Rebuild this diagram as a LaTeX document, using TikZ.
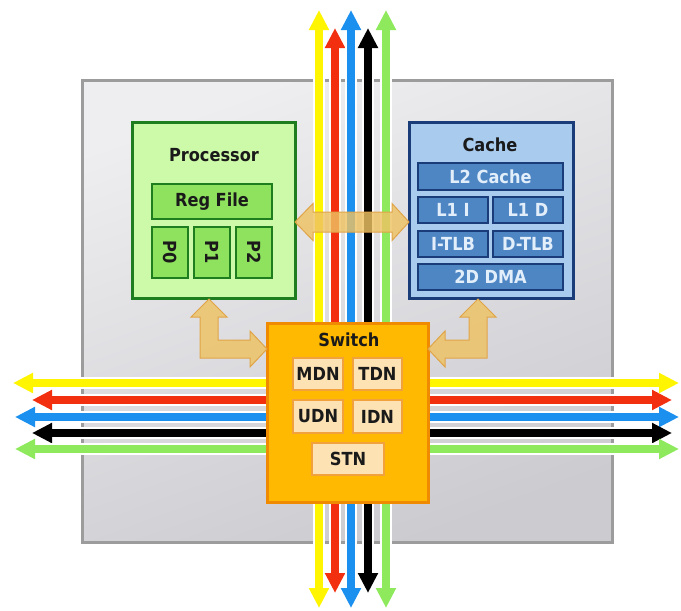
\documentclass[tikz,border=0pt]{standalone}
\usepackage{fontspec}
\setmainfont{DejaVu Sans}
\newfontfamily\cfont{DejaVu Sans Condensed}
\usetikzlibrary{arrows.meta}
\definecolor{chipA}{HTML}{EEEEF0}
\definecolor{chipB}{HTML}{CBCBD0}
\definecolor{chipdraw}{HTML}{9C9C9C}
\definecolor{procfill}{HTML}{CDFAA8}
\definecolor{procdraw}{HTML}{1E7D1E}
\definecolor{procin}{HTML}{8FE25E}
\definecolor{cachefill}{HTML}{A9CBEE}
\definecolor{cachedraw}{HTML}{1A3C78}
\definecolor{cachein}{HTML}{4E86C4}
\definecolor{cachetext}{HTML}{E2EEFA}
\definecolor{swfill}{HTML}{FFB900}
\definecolor{swdraw}{HTML}{F08A00}
\definecolor{swin}{HTML}{FDE2B4}
\definecolor{swindraw}{HTML}{F2A23C}
\definecolor{arrfill}{HTML}{EEC263}
\definecolor{arrdraw}{HTML}{E0A448}
\definecolor{busY}{HTML}{FFF500}
\definecolor{busR}{HTML}{F2300F}
\definecolor{busB}{HTML}{1C90EE}
\definecolor{busK}{HTML}{000000}
\definecolor{busG}{HTML}{8EEA5C}
\definecolor{txt}{HTML}{1A1A1A}
\begin{document}
\begin{tikzpicture}[x=1pt,y=-1pt,
  every node/.style={inner sep=0pt, outer sep=0pt, text=txt,
    font=\cfont\bfseries\fontsize{18}{21}\selectfont},
  procbox/.style={fill=procfill, draw=procdraw, line width=3pt},
  procsub/.style={fill=procin, draw=procdraw, line width=2.5pt},
  cachebox/.style={fill=cachefill, draw=cachedraw, line width=3pt},
  cachesub/.style={fill=cachein, draw=cachedraw, line width=2pt, text=cachetext},
  swbox/.style={fill=swfill, draw=swdraw, line width=3pt},
  swsub/.style={fill=swin, draw=swindraw, line width=2pt},
  fatarrow/.style={fill=arrfill, fill opacity=0.82, draw=arrdraw, line width=1pt},
  bus/.style={line width=8pt, {Triangle[length=20pt,width=19pt]}-{Triangle[length=20pt,width=19pt]}},
  halo/.style={line width=11.5pt, white, shorten <=20pt, shorten >=20pt}
]
\useasboundingbox (0,0) rectangle (681,611);
% chip
\shade[top color=chipA, bottom color=chipB, shading angle=20] (82,80) rectangle (612,542);
\draw[chipdraw, line width=3pt] (82,80) rectangle (612,542);
% vertical buses
\foreach \c/\x/\t/\b [count=\i] in {busY/319/10/608, busR/335/28/593, busB/351/10/608, busK/368/28/593, busG/386/10/608} {
  \coordinate (vt\i) at (\x,\t);
  \coordinate (vb\i) at (\x,\b);
  \draw[halo] (vt\i) -- (vb\i);
  \draw[bus,\c] (vt\i) -- (vb\i);
}
% horizontal buses
\foreach \c/\y/\l/\r [count=\i] in {busY/383/13/679, busR/400/32/672, busB/417/15/679, busK/433/32/672, busG/449/15/679} {
  \coordinate (hl\i) at (\l,\y);
  \coordinate (hr\i) at (\r,\y);
  \draw[halo] (hl\i) -- (hr\i);
  \draw[bus,\c] (hl\i) -- (hr\i);
}
% processor
\node[procbox, minimum width=163pt, minimum height=176pt] (proc) at (213.5,210) {};
\node (proct) at (214,155) {Processor};
\node[procsub, minimum width=120pt, minimum height=35pt] (reg) at (212,201.5) {Reg File};
\node[procsub, minimum width=36pt, minimum height=51pt] (p0) at (170,252.5) {};
\node[procsub, minimum width=36pt, minimum height=51pt] (p1) at (212,252.5) {};
\node[procsub, minimum width=36pt, minimum height=51pt] (p2) at (254,252.5) {};
\node[rotate=-90] (p0t) at (p0) {P0};
\node[rotate=-90] (p1t) at (p1) {P1};
\node[rotate=-90] (p2t) at (p2) {P2};
% cache
\node[cachebox, minimum width=164pt, minimum height=176pt] (cache) at (491,210) {};
\node (cachet) at (490,145) {Cache};
\node[cachesub, minimum width=145pt, minimum height=27pt] (l2) at (490.5,176.5) {L2 Cache};
\node[cachesub, minimum width=70pt, minimum height=26pt] (l1i) at (453,210) {L1 I};
\node[cachesub, minimum width=70pt, minimum height=26pt] (l1d) at (528,210) {L1 D};
\node[cachesub, minimum width=70pt, minimum height=26pt] (itlb) at (453,244) {I-TLB};
\node[cachesub, minimum width=70pt, minimum height=26pt] (dtlb) at (528,244) {D-TLB};
\node[cachesub, minimum width=145pt, minimum height=26pt] (dma) at (490.5,277) {2D DMA};
% switch
\node[swbox, minimum width=161pt, minimum height=179pt] (sw) at (347.5,412.5) {};
\node (swt) at (349,340) {Switch};
\node[swsub, minimum width=50pt, minimum height=32pt] (mdn) at (318,374) {MDN};
\node[swsub, minimum width=49pt, minimum height=32pt] (tdn) at (377.5,374) {TDN};
\node[swsub, minimum width=50pt, minimum height=33pt] (udn) at (318,416.5) {UDN};
\node[swsub, minimum width=49pt, minimum height=33pt] (idn) at (377.5,416.5) {IDN};
\node[swsub, minimum width=72pt, minimum height=32pt] (stn) at (348,459) {STN};
% fat arrows
\draw[fatarrow] (295,222) -- (313,203.5) -- (313,212) -- (392,212) -- (392,203.5) -- (409,222)
  -- (392,240.5) -- (392,232) -- (313,232) -- (313,240.5) -- cycle;
\draw[fatarrow] (209,299) -- (227,317) -- (218,317) -- (218,340) -- (250,340) -- (250,331)
  -- (267,349) -- (250,367) -- (250,358) -- (200,358) -- (200,317) -- (191,317) -- cycle;
\draw[fatarrow] (478,299) -- (496,317) -- (487,317) -- (487,358) -- (445,358) -- (445,367)
  -- (428,349) -- (445,331) -- (445,340) -- (469,340) -- (469,317) -- (460,317) -- cycle;
\end{tikzpicture}
\end{document}
